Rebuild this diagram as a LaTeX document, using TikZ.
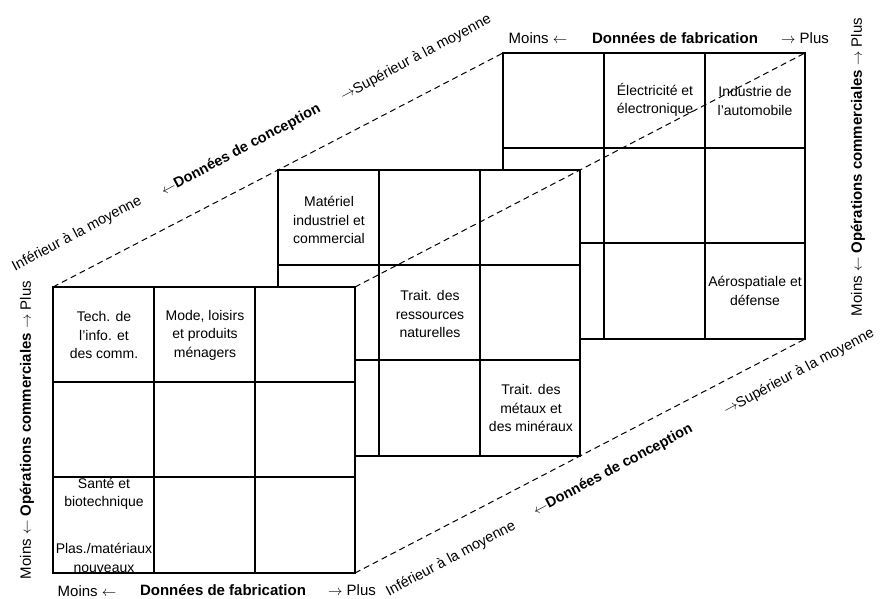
\documentclass[tikz,border=0pt]{standalone}
\usepackage{fontspec}
\setmainfont{Liberation Sans}

\begin{document}
\begin{tikzpicture}[x=1pt, y=-1pt,
      grille/.style={draw=black, line width=1.5pt, line join=miter},
      trait/.style={black, line width=1.5pt},
      pointille/.style={black, line width=1pt, dash pattern=on 6pt off 4pt},
      case/.style={align=center, inner sep=0pt, font=\fontsize{14}{18.5}\selectfont},
      axe/.style={inner sep=0pt, font=\fontsize{15}{18}\selectfont},
      diag/.style={inner sep=0pt, rotate=28, font=\fontsize{14.5}{17}\selectfont}]

    \fill[white] (0,0) rectangle (881,599);
    \useasboundingbox (0,0) rectangle (881,599);

    % trois grilles, de l'arriere vers l'avant
    \foreach \gx/\gy in {503/53, 278/170, 53/287} {
      \fill[white] (\gx,\gy) rectangle ++(302,286);
      \foreach \i in {101,202} { \draw[trait] (\gx+\i,\gy) -- ++(0,286); }
      \foreach \j in {95,190} { \draw[trait] (\gx,\gy+\j) -- ++(302,0); }
      \draw[grille] (\gx,\gy) rectangle ++(302,286);
    }

    \coordinate (avHG) at (53,287);
    \coordinate (miHG) at (278,170);
    \coordinate (arHG) at (503,53);
    \coordinate (avHD) at (355,287);
    \coordinate (miHD) at (580,170);
    \coordinate (arHD) at (805,53);
    \coordinate (avBD) at (355,573);
    \coordinate (miBD) at (580,456);
    \coordinate (arBD) at (805,339);

    \draw[pointille] (avHG) -- (miHG) -- (arHG);
    \draw[pointille] (avHD) -- (miHD) -- (arHD);
    \draw[pointille] (avBD) -- (miBD) -- (arBD);

    % grille avant
    \node[case] (tic)    at (104,335) {Tech. de\\l'info. et\\des comm.};
    \node[case] (mode)   at (205,335) {Mode, loisirs\\et produits\\ménagers};
    \node[case] (sante)  at (104,494) {Santé et\\biotechnique};
    \node[case] (plas)   at (104,558) {Plas./matériaux\\nouveaux};

    % grille du milieu
    \node[case] (materiel)   at (329,220) {Matériel\\industriel et\\commercial};
    \node[case] (ressources) at (430,314) {Trait. des\\ressources\\naturelles};
    \node[case] (metaux)     at (531,408) {Trait. des\\métaux et\\des minéraux};

    % grille arriere
    \node[case] (electricite) at (655,100) {Électricité et\\électronique};
    \node[case] (automobile)  at (755,101) {Industrie de\\l'automobile};
    \node[case] (aero)        at (755,291) {Aérospatiale et\\défense};

    % axes
    \node[axe] (moinsH) at (538,38) {Moins $\leftarrow$};
    \node[axe] (fabH)   at (675,38) {\bfseries Données de fabrication};
    \node[axe] (plusH)  at (805,38) {$\rightarrow$ Plus};
    \node[axe] (moinsB) at (87,591)  {Moins $\leftarrow$};
    \node[axe] (fabB)   at (223,590) {\bfseries Données de fabrication};
    \node[axe] (plusB)  at (352,590) {$\rightarrow$ Plus};

    \node[axe, rotate=90] (opD) at (858,167) {Moins $\leftarrow$ \textbf{Opérations commerciales} $\rightarrow$ Plus};
    \node[axe, rotate=90] (opG) at (27,430)  {Moins $\leftarrow$ \textbf{Opérations commerciales} $\rightarrow$ Plus};

    \node[diag] (infH)  at (77,234)  {Inférieur à la moyenne};
    \node[diag] (concH) at (241,150) {$\leftarrow$\textbf{Données de conception}};
    \node[diag] (supH)  at (416,58)  {$\rightarrow$Supérieur à la moyenne};
    \node[diag] (infB)  at (451,559) {Inférieur à la moyenne};
    \node[diag] (concB) at (613,470) {$\leftarrow$\textbf{Données de conception}};
    \node[diag] (supB)  at (799,372) {$\rightarrow$Supérieur à la moyenne};
  \end{tikzpicture}
\end{document}
